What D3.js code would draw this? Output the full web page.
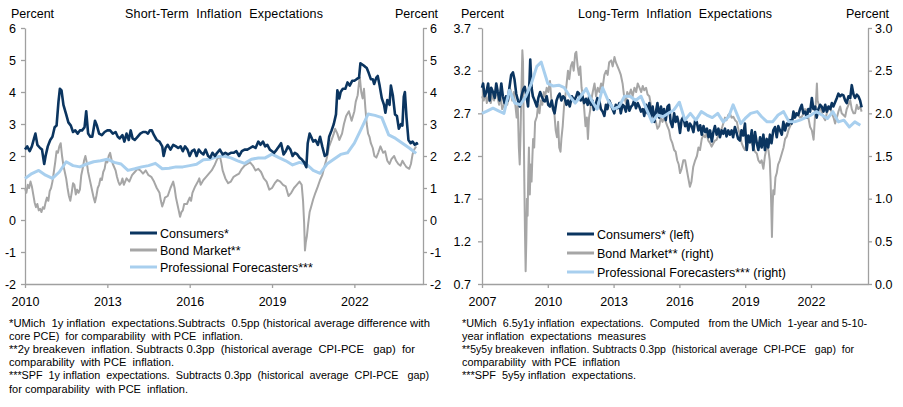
<!DOCTYPE html>
<html>
<head>
<meta charset="utf-8">
<script src="https://cdn.jsdelivr.net/npm/d3@7"></script>
<style>
body { margin: 0; background: #fff; }
svg text { font-family: "Liberation Sans", Arial, sans-serif; fill: #000; }
</style>
</head>
<body>
<svg id="chart"></svg>
<script>
const width = 903, height = 407;

// couleurs
const navy = "#0b3560", grey = "#a6a6a6", lightBlue = "#a8cfee", axisGrey = "#a0a0a0";

// ---- Short-term (gauche) : [année, valeur]
const stConsumers = [[2010.0,2.2],[2010.08,2.3],[2010.17,2.15],[2010.25,2.3],[2010.33,2.55],[2010.38,2.7],[2010.45,2.35],[2010.55,2.25],[2010.62,2.2],[2010.7,1.75],[2010.75,2.0],[2010.83,2.3],[2010.92,2.5],[2011.0,2.6],[2011.08,2.9],[2011.15,2.95],[2011.22,3.7],[2011.27,4.1],[2011.33,4.05],[2011.4,3.6],[2011.5,3.3],[2011.58,3.05],[2011.67,2.95],[2011.75,2.75],[2011.83,2.8],[2011.92,2.7],[2012.0,2.8],[2012.08,2.8],[2012.17,2.9],[2012.23,3.4],[2012.3,2.7],[2012.38,2.6],[2012.45,2.6],[2012.55,3.1],[2012.62,2.95],[2012.7,2.7],[2012.8,2.65],[2012.9,2.75],[2013.0,2.8],[2013.1,2.8],[2013.2,2.7],[2013.3,2.75],[2013.38,2.6],[2013.45,2.55],[2013.55,2.65],[2013.62,2.45],[2013.7,2.7],[2013.78,2.5],[2013.85,2.8],[2013.92,2.55],[2014.0,2.5],[2014.1,2.6],[2014.2,2.7],[2014.3,2.75],[2014.4,2.75],[2014.48,2.7],[2014.55,2.8],[2014.62,2.8],[2014.7,2.65],[2014.8,2.5],[2014.9,2.45],[2015.0,2.3],[2015.05,2.0],[2015.12,2.25],[2015.2,2.35],[2015.3,2.2],[2015.4,2.35],[2015.5,2.3],[2015.58,2.25],[2015.67,2.3],[2015.75,2.15],[2015.83,2.3],[2015.92,2.2],[2016.0,2.0],[2016.08,2.15],[2016.17,2.2],[2016.25,2.0],[2016.33,2.2],[2016.42,2.1],[2016.5,2.05],[2016.58,2.2],[2016.67,2.0],[2016.75,1.95],[2016.83,2.1],[2016.92,2.0],[2017.0,2.1],[2017.1,2.2],[2017.2,2.05],[2017.3,2.1],[2017.4,2.05],[2017.5,2.1],[2017.6,2.1],[2017.7,2.15],[2017.8,2.0],[2017.9,2.15],[2018.0,2.2],[2018.1,2.2],[2018.2,2.25],[2018.3,2.3],[2018.4,2.25],[2018.5,2.45],[2018.58,2.35],[2018.67,2.45],[2018.75,2.3],[2018.83,2.35],[2018.92,2.2],[2019.0,2.15],[2019.08,2.1],[2019.17,2.2],[2019.25,2.3],[2019.33,2.4],[2019.42,2.05],[2019.5,2.15],[2019.58,2.3],[2019.67,2.2],[2019.75,2.0],[2019.83,2.1],[2019.92,2.05],[2020.0,1.95],[2020.08,1.9],[2020.17,1.8],[2020.25,1.65],[2020.3,2.4],[2020.37,2.7],[2020.45,2.55],[2020.5,2.45],[2020.58,2.5],[2020.67,2.35],[2020.75,2.6],[2020.83,2.3],[2020.92,2.0],[2021.0,2.05],[2021.08,2.6],[2021.17,2.8],[2021.25,3.0],[2021.33,3.3],[2021.38,4.05],[2021.45,3.8],[2021.5,4.0],[2021.58,4.1],[2021.67,4.1],[2021.75,4.3],[2021.83,4.2],[2021.92,4.35],[2022.0,4.35],[2022.08,4.4],[2022.17,4.45],[2022.22,4.9],[2022.3,4.85],[2022.38,4.8],[2022.45,4.75],[2022.52,4.6],[2022.6,4.4],[2022.67,4.4],[2022.72,4.25],[2022.8,4.45],[2022.85,4.5],[2022.92,4.2],[2023.0,3.8],[2023.08,3.6],[2023.13,3.35],[2023.2,3.75],[2023.28,3.6],[2023.33,4.2],[2023.4,3.9],[2023.48,3.3],[2023.55,3.25],[2023.62,2.85],[2023.7,3.0],[2023.75,2.95],[2023.8,3.85],[2023.84,4.0],[2023.9,3.2],[2023.97,2.5],[2024.05,2.4],[2024.12,2.45],[2024.2,2.35],[2024.27,2.4],[2024.3,2.35]];

const stBond = [[2010.0,1.0],[2010.05,0.85],[2010.1,1.1],[2010.15,1.0],[2010.2,1.2],[2010.25,1.05],[2010.3,0.8],[2010.35,0.55],[2010.4,0.4],[2010.45,0.5],[2010.5,0.3],[2010.55,0.35],[2010.6,0.25],[2010.65,0.4],[2010.7,0.35],[2010.75,0.55],[2010.8,0.7],[2010.85,0.6],[2010.9,0.9],[2010.95,1.0],[2011.0,1.2],[2011.05,1.5],[2011.1,1.8],[2011.15,2.15],[2011.2,2.1],[2011.25,2.3],[2011.3,2.4],[2011.35,2.0],[2011.4,1.7],[2011.45,1.5],[2011.5,1.3],[2011.55,1.0],[2011.6,0.75],[2011.65,0.6],[2011.7,0.85],[2011.75,1.15],[2011.8,1.1],[2011.85,0.8],[2011.9,0.95],[2011.95,0.85],[2012.0,0.95],[2012.05,1.4],[2012.1,1.6],[2012.15,1.85],[2012.2,2.0],[2012.25,1.8],[2012.3,1.5],[2012.35,1.3],[2012.4,1.1],[2012.45,0.9],[2012.5,0.7],[2012.55,0.55],[2012.6,0.75],[2012.65,1.0],[2012.7,1.1],[2012.75,1.3],[2012.8,1.25],[2012.85,1.5],[2012.9,1.6],[2012.95,1.85],[2013.0,1.8],[2013.05,2.0],[2013.1,2.1],[2013.15,1.9],[2013.2,1.75],[2013.3,1.55],[2013.35,1.35],[2013.4,1.2],[2013.45,1.1],[2013.5,1.15],[2013.55,1.3],[2013.6,1.1],[2013.7,1.3],[2013.8,1.2],[2013.9,1.4],[2014.0,1.5],[2014.1,1.6],[2014.2,1.55],[2014.3,1.45],[2014.4,1.55],[2014.5,1.4],[2014.6,1.35],[2014.7,1.2],[2014.8,1.0],[2014.9,0.85],[2014.95,0.6],[2015.0,0.42],[2015.05,0.55],[2015.1,0.7],[2015.2,0.75],[2015.3,1.0],[2015.4,1.2],[2015.45,1.0],[2015.5,0.7],[2015.55,0.5],[2015.6,0.3],[2015.65,0.1],[2015.7,0.25],[2015.75,0.3],[2015.8,0.5],[2015.9,0.5],[2016.0,0.7],[2016.05,0.6],[2016.1,0.85],[2016.2,1.05],[2016.3,1.2],[2016.35,1.3],[2016.4,1.1],[2016.5,1.25],[2016.6,1.35],[2016.7,1.45],[2016.8,1.55],[2016.9,1.7],[2017.0,1.9],[2017.1,2.0],[2017.15,1.8],[2017.2,1.55],[2017.3,1.3],[2017.4,1.15],[2017.5,1.2],[2017.6,1.35],[2017.7,1.4],[2017.8,1.45],[2017.9,1.6],[2018.0,1.7],[2018.1,1.75],[2018.2,1.8],[2018.3,1.7],[2018.4,1.55],[2018.5,1.6],[2018.6,1.5],[2018.7,1.3],[2018.8,1.2],[2018.9,0.95],[2019.0,1.0],[2019.1,1.15],[2019.2,1.25],[2019.3,1.2],[2019.4,1.1],[2019.5,1.05],[2019.6,0.75],[2019.7,0.85],[2019.8,1.0],[2019.9,1.1],[2020.0,1.2],[2020.08,1.1],[2020.13,0.6],[2020.17,-0.1],[2020.2,-0.95],[2020.23,-0.7],[2020.27,-0.5],[2020.32,-0.1],[2020.37,0.25],[2020.42,0.4],[2020.5,0.65],[2020.58,0.85],[2020.67,1.05],[2020.75,1.25],[2020.83,1.4],[2020.92,1.7],[2021.0,1.95],[2021.08,2.3],[2021.17,2.5],[2021.25,2.7],[2021.3,2.85],[2021.38,2.7],[2021.45,2.5],[2021.55,2.7],[2021.62,3.0],[2021.7,3.25],[2021.8,3.4],[2021.9,3.1],[2022.0,3.4],[2022.05,3.7],[2022.12,3.9],[2022.17,4.3],[2022.2,4.45],[2022.25,4.0],[2022.3,3.8],[2022.35,4.1],[2022.4,3.5],[2022.45,3.0],[2022.5,2.7],[2022.55,2.6],[2022.6,2.4],[2022.67,2.25],[2022.73,2.0],[2022.8,1.95],[2022.87,2.1],[2022.95,2.3],[2023.0,2.2],[2023.05,2.1],[2023.12,2.15],[2023.2,1.85],[2023.28,1.75],[2023.35,1.9],[2023.45,2.0],[2023.52,1.85],[2023.6,1.75],[2023.68,1.7],[2023.75,1.85],[2023.82,1.75],[2023.9,1.65],[2024.0,1.6],[2024.06,1.75],[2024.12,2.05],[2024.18,2.2],[2024.25,2.3]];

const stSpf = [[2010.0,1.3],[2010.25,1.45],[2010.5,1.55],[2010.75,1.4],[2011.0,1.3],[2011.25,1.5],[2011.5,1.82],[2011.75,1.7],[2012.0,1.66],[2012.25,1.75],[2012.5,1.82],[2012.75,1.85],[2013.0,1.9],[2013.25,1.8],[2013.5,1.75],[2013.75,1.55],[2014.0,1.6],[2014.25,1.66],[2014.5,1.7],[2014.75,1.77],[2015.0,1.6],[2015.25,1.62],[2015.5,1.66],[2015.75,1.66],[2016.0,1.7],[2016.25,1.74],[2016.5,1.88],[2016.75,1.9],[2017.0,1.98],[2017.25,2.0],[2017.5,1.94],[2017.75,1.85],[2018.0,1.77],[2018.25,1.9],[2018.5,1.94],[2018.75,1.94],[2019.0,2.06],[2019.25,1.95],[2019.5,1.85],[2019.75,1.72],[2020.0,1.8],[2020.25,1.75],[2020.5,1.55],[2020.75,1.46],[2021.0,1.75],[2021.25,1.9],[2021.5,2.05],[2021.75,2.1],[2022.0,2.4],[2022.25,2.85],[2022.5,3.31],[2022.75,3.27],[2023.0,3.2],[2023.25,2.66],[2023.5,2.55],[2023.75,2.4],[2024.0,2.25],[2024.25,2.08]];

// ---- Long-term (droite) : consommateurs axe gauche, marché / SPF axe droit
const ltConsumers = [[2007.0,3.0],[2007.05,3.05],[2007.12,2.9],[2007.2,2.95],[2007.28,3.05],[2007.35,2.85],[2007.42,3.0],[2007.5,2.95],[2007.58,2.88],[2007.65,3.05],[2007.72,2.95],[2007.8,2.85],[2007.88,3.05],[2007.95,2.9],[2008.03,2.82],[2008.1,2.9],[2008.18,2.85],[2008.25,3.0],[2008.33,3.15],[2008.41,3.18],[2008.48,3.1],[2008.56,2.93],[2008.64,2.85],[2008.72,2.78],[2008.8,2.9],[2008.88,2.98],[2008.95,3.01],[2009.03,2.9],[2009.1,2.78],[2009.17,3.1],[2009.2,3.33],[2009.26,3.0],[2009.32,2.9],[2009.4,2.85],[2009.5,2.78],[2009.57,2.88],[2009.65,2.95],[2009.72,2.9],[2009.8,2.85],[2009.87,2.84],[2009.95,2.9],[2010.02,2.8],[2010.1,2.78],[2010.18,2.85],[2010.25,2.75],[2010.31,2.7],[2010.4,2.85],[2010.47,2.9],[2010.54,2.93],[2010.62,2.85],[2010.7,2.9],[2010.77,2.88],[2010.85,2.8],[2010.92,2.85],[2011.0,2.78],[2011.1,2.9],[2011.2,2.85],[2011.3,2.9],[2011.36,2.95],[2011.43,2.93],[2011.5,2.85],[2011.58,2.9],[2011.66,2.82],[2011.74,2.87],[2011.82,2.8],[2011.89,2.9],[2011.96,2.8],[2012.03,2.85],[2012.1,2.74],[2012.18,2.8],[2012.26,2.88],[2012.35,2.85],[2012.42,2.75],[2012.5,2.72],[2012.58,2.67],[2012.65,2.8],[2012.72,2.75],[2012.8,2.85],[2012.88,2.8],[2012.95,2.75],[2013.03,2.7],[2013.1,2.8],[2013.18,2.76],[2013.26,2.82],[2013.33,2.7],[2013.41,2.8],[2013.49,2.78],[2013.56,2.72],[2013.64,2.85],[2013.72,2.73],[2013.8,2.78],[2013.87,2.8],[2013.94,2.85],[2014.02,2.76],[2014.1,2.82],[2014.17,2.78],[2014.25,2.72],[2014.33,2.75],[2014.4,2.67],[2014.48,2.8],[2014.55,2.7],[2014.63,2.82],[2014.7,2.66],[2014.78,2.78],[2014.86,2.6],[2014.93,2.72],[2015.0,2.82],[2015.08,2.65],[2015.16,2.78],[2015.23,2.68],[2015.3,2.75],[2015.38,2.62],[2015.46,2.78],[2015.53,2.8],[2015.6,2.6],[2015.68,2.54],[2015.76,2.7],[2015.83,2.6],[2015.9,2.66],[2015.97,2.58],[2016.03,2.47],[2016.1,2.62],[2016.18,2.66],[2016.26,2.55],[2016.34,2.6],[2016.41,2.5],[2016.48,2.58],[2016.56,2.55],[2016.64,2.48],[2016.72,2.62],[2016.79,2.6],[2016.87,2.5],[2016.95,2.56],[2017.02,2.45],[2017.1,2.55],[2017.18,2.48],[2017.26,2.52],[2017.33,2.42],[2017.4,2.5],[2017.48,2.37],[2017.55,2.48],[2017.62,2.55],[2017.7,2.45],[2017.78,2.52],[2017.85,2.42],[2017.93,2.5],[2018.0,2.46],[2018.08,2.52],[2018.15,2.43],[2018.23,2.5],[2018.3,2.45],[2018.38,2.5],[2018.45,2.42],[2018.53,2.54],[2018.6,2.48],[2018.68,2.4],[2018.76,2.38],[2018.83,2.5],[2018.91,2.44],[2018.99,2.58],[2019.07,2.27],[2019.14,2.44],[2019.22,2.36],[2019.3,2.5],[2019.37,2.27],[2019.45,2.48],[2019.53,2.35],[2019.6,2.27],[2019.68,2.42],[2019.75,2.3],[2019.83,2.45],[2019.9,2.27],[2019.98,2.4],[2020.05,2.3],[2020.13,2.45],[2020.2,2.35],[2020.28,2.5],[2020.36,2.54],[2020.44,2.42],[2020.51,2.55],[2020.59,2.5],[2020.67,2.45],[2020.74,2.6],[2020.82,2.5],[2020.9,2.58],[2020.97,2.56],[2021.05,2.62],[2021.12,2.58],[2021.2,2.72],[2021.27,2.65],[2021.35,2.7],[2021.42,2.68],[2021.5,2.75],[2021.58,2.8],[2021.65,2.7],[2021.73,2.72],[2021.81,2.65],[2021.88,2.75],[2021.96,2.72],[2022.04,2.88],[2022.11,2.75],[2022.19,2.78],[2022.26,2.65],[2022.34,2.75],[2022.42,2.8],[2022.49,2.78],[2022.57,2.72],[2022.65,2.8],[2022.72,2.72],[2022.8,2.78],[2022.88,2.75],[2022.95,2.82],[2023.02,2.78],[2023.1,2.83],[2023.18,2.88],[2023.25,2.93],[2023.33,2.9],[2023.41,2.92],[2023.48,2.91],[2023.56,2.85],[2023.63,2.82],[2023.71,2.9],[2023.79,2.88],[2023.86,3.03],[2023.94,2.92],[2024.01,2.88],[2024.09,2.92],[2024.16,2.9],[2024.24,2.85],[2024.31,2.77]];

const ltBond = [[2007.0,2.2],[2007.08,2.15],[2007.15,2.25],[2007.22,2.12],[2007.3,2.2],[2007.4,2.12],[2007.48,2.22],[2007.55,2.15],[2007.62,2.25],[2007.7,2.2],[2007.78,2.1],[2007.85,2.2],[2007.92,2.05],[2008.0,2.1],[2008.08,2.2],[2008.15,2.1],[2008.22,2.2],[2008.3,2.28],[2008.38,2.15],[2008.45,2.25],[2008.52,2.1],[2008.58,1.95],[2008.63,2.1],[2008.68,1.6],[2008.72,1.4],[2008.76,1.8],[2008.8,2.3],[2008.84,2.74],[2008.87,2.6],[2008.9,1.9],[2008.93,1.2],[2008.96,0.6],[2008.99,0.15],[2009.02,0.5],[2009.05,1.0],[2009.08,0.8],[2009.11,1.3],[2009.14,1.6],[2009.18,1.05],[2009.22,1.4],[2009.26,1.2],[2009.3,1.5],[2009.33,1.7],[2009.38,1.6],[2009.42,1.9],[2009.5,1.96],[2009.56,2.1],[2009.62,2.0],[2009.68,2.15],[2009.75,2.1],[2009.82,2.25],[2009.88,2.2],[2009.95,2.3],[2010.02,2.25],[2010.1,2.38],[2010.15,2.2],[2010.22,2.05],[2010.3,2.0],[2010.36,1.8],[2010.42,1.72],[2010.47,1.9],[2010.52,1.6],[2010.58,1.55],[2010.62,1.7],[2010.68,1.85],[2010.74,2.08],[2010.8,2.2],[2010.86,2.35],[2010.92,2.5],[2010.98,2.4],[2011.05,2.55],[2011.12,2.6],[2011.18,2.5],[2011.25,2.7],[2011.3,2.72],[2011.36,2.55],[2011.42,2.45],[2011.48,2.55],[2011.54,2.3],[2011.6,2.2],[2011.66,2.05],[2011.72,1.85],[2011.78,1.95],[2011.83,1.7],[2011.88,1.95],[2011.94,2.05],[2011.98,2.15],[2012.05,2.25],[2012.13,2.35],[2012.2,2.2],[2012.28,2.3],[2012.35,2.25],[2012.43,2.35],[2012.5,2.3],[2012.58,2.45],[2012.66,2.5],[2012.73,2.45],[2012.8,2.6],[2012.89,2.62],[2012.96,2.55],[2013.04,2.66],[2013.1,2.6],[2013.18,2.55],[2013.26,2.5],[2013.33,2.45],[2013.41,2.35],[2013.48,2.2],[2013.56,2.12],[2013.62,2.25],[2013.7,2.2],[2013.79,2.28],[2013.87,2.2],[2013.95,2.3],[2014.03,2.25],[2014.1,2.35],[2014.18,2.3],[2014.26,2.25],[2014.33,2.32],[2014.4,2.27],[2014.48,2.3],[2014.55,2.22],[2014.63,2.2],[2014.7,2.1],[2014.78,2.05],[2014.86,1.95],[2014.93,1.9],[2015.0,1.82],[2015.08,1.85],[2015.15,1.95],[2015.23,1.9],[2015.3,1.95],[2015.38,1.9],[2015.45,1.85],[2015.53,1.8],[2015.6,1.7],[2015.68,1.65],[2015.76,1.57],[2015.83,1.55],[2015.9,1.45],[2015.97,1.4],[2016.03,1.3],[2016.1,1.35],[2016.18,1.45],[2016.26,1.45],[2016.33,1.35],[2016.4,1.25],[2016.48,1.14],[2016.55,1.2],[2016.63,1.37],[2016.72,1.45],[2016.8,1.5],[2016.87,1.6],[2016.94,1.57],[2017.02,1.7],[2017.1,1.75],[2017.17,1.72],[2017.24,1.76],[2017.32,1.68],[2017.4,1.65],[2017.47,1.61],[2017.55,1.65],[2017.62,1.68],[2017.7,1.69],[2017.78,1.75],[2017.85,1.8],[2017.93,1.82],[2018.0,1.88],[2018.08,1.95],[2018.15,1.92],[2018.23,1.98],[2018.3,2.0],[2018.38,1.95],[2018.46,1.96],[2018.54,1.92],[2018.62,1.9],[2018.7,1.8],[2018.76,1.76],[2018.84,1.65],[2018.92,1.6],[2018.99,1.57],[2019.07,1.65],[2019.15,1.7],[2019.22,1.69],[2019.3,1.65],[2019.38,1.6],[2019.45,1.55],[2019.53,1.53],[2019.6,1.45],[2019.68,1.42],[2019.75,1.45],[2019.83,1.35],[2019.9,1.5],[2019.98,1.6],[2020.06,1.57],[2020.12,1.45],[2020.16,1.2],[2020.19,0.9],[2020.22,0.55],[2020.25,0.9],[2020.28,1.1],[2020.33,1.05],[2020.38,1.25],[2020.44,1.3],[2020.5,1.4],[2020.58,1.45],[2020.67,1.53],[2020.75,1.6],[2020.82,1.7],[2020.9,1.73],[2020.97,1.8],[2021.05,1.85],[2021.12,1.88],[2021.2,1.95],[2021.28,2.0],[2021.35,2.0],[2021.42,1.98],[2021.5,1.95],[2021.58,1.96],[2021.66,2.0],[2021.73,2.05],[2021.81,2.04],[2021.88,1.95],[2021.96,1.84],[2022.04,1.8],[2022.12,1.69],[2022.18,1.95],[2022.24,2.2],[2022.27,2.35],[2022.3,2.15],[2022.36,2.1],[2022.42,2.08],[2022.5,2.0],[2022.58,1.95],[2022.65,1.92],[2022.72,2.0],[2022.8,2.05],[2022.88,2.08],[2022.95,2.0],[2023.03,1.95],[2023.1,1.88],[2023.18,1.95],[2023.25,2.02],[2023.33,2.08],[2023.4,2.0],[2023.48,1.98],[2023.56,1.96],[2023.63,2.05],[2023.71,2.1],[2023.79,2.15],[2023.86,2.05],[2023.94,2.0],[2024.01,2.0],[2024.09,2.1],[2024.16,2.05],[2024.24,2.08],[2024.31,2.02]];

const ltSpf = [[2007.0,2.0],[2007.25,2.03],[2007.5,2.06],[2007.75,2.03],[2008.0,2.0],[2008.25,2.27],[2008.5,2.12],[2008.75,2.1],[2009.0,2.2],[2009.25,2.35],[2009.5,2.55],[2009.7,2.6],[2010.0,2.35],[2010.25,2.32],[2010.5,2.33],[2010.75,2.3],[2011.0,2.2],[2011.25,2.12],[2011.5,2.2],[2011.75,2.29],[2012.0,2.15],[2012.25,2.05],[2012.5,2.3],[2012.75,2.15],[2013.0,2.05],[2013.25,2.08],[2013.5,2.2],[2013.75,2.2],[2014.0,2.15],[2014.25,2.2],[2014.5,2.05],[2014.75,1.9],[2015.0,1.98],[2015.25,1.96],[2015.5,2.0],[2015.75,2.04],[2016.0,2.13],[2016.25,1.92],[2016.5,2.0],[2016.75,1.92],[2017.0,2.02],[2017.25,1.98],[2017.5,1.95],[2017.75,2.0],[2018.0,1.9],[2018.25,1.96],[2018.45,2.1],[2018.8,1.88],[2019.0,1.94],[2019.25,2.0],[2019.55,2.02],[2019.75,1.96],[2020.0,1.9],[2020.25,1.9],[2020.5,1.98],[2020.75,2.02],[2021.0,1.9],[2021.25,1.9],[2021.5,1.92],[2021.75,1.95],[2022.0,1.98],[2022.25,2.02],[2022.5,1.98],[2022.75,1.94],[2023.0,2.02],[2023.25,1.9],[2023.5,1.92],[2023.75,1.84],[2024.0,1.9],[2024.25,1.86]];

// graduations
const stYearTicks = [2010, 2013, 2016, 2019, 2022];
const ltYearTicks = [2007, 2010, 2013, 2016, 2019, 2022];
const stValueTicks = [-2, -1, 0, 1, 2, 3, 4, 5, 6];
const ltLeftTicks = [0.7, 1.2, 1.7, 2.2, 2.7, 3.2, 3.7];
const ltRightTicks = [0, 0.5, 1, 1.5, 2, 2.5, 3];

// légendes
const stLegend = ["Consumers*", "Bond Market**", "Professional Forecasters***"];
const ltLegend = ["Consumers* (left)", "Bond Market** (right)", "Professional Forecasters*** (right)"];

// notes
const stNotes = [
  "*UMich  1y inflation  expectations.Subtracts  0.5pp (historical average difference with",
  "core PCE)  for comparability  with PCE  inflation.",
  "**2y breakeven  inflation. Subtracts 0.3pp  (historical average  CPI-PCE   gap)  for",
  "comparability  with PCE  inflation.",
  "***SPF  1y inflation  expectations.  Subtracts 0.3pp  (historical  average  CPI-PCE   gap)",
  "for comparability  with PCE  inflation."
];
const stNoteWidths = [421, 234, 406, 165, 420, 179];
const ltNotes = [
  "*UMich  6.5y1y inflation  expectations.  Computed   from the UMich  1-year and 5-10-",
  "year inflation  expectations  measures",
  "**5y5y breakeven  inflation. Subtracts 0.3pp  (historical average  CPI-PCE   gap)  for",
  "comparability  with PCE  inflation",
  "***SPF  5y5y inflation  expectations."
];
const ltNoteWidths = [405, 184, 392, 158, 174];

const svg = d3.select("#chart")
    .attr("width", width)
    .attr("height", height);

svg.append("rect").attr("width", width).attr("height", height).attr("fill", "#fff");

// format avec un tiret simple pour les négatifs
const fmtInt = d => d3.format("d")(d).replace("\u2212", "-");
const fmtDec = d => d3.format(".1f")(d).replace("\u2212", "-");

function styleAxis(g) {
    g.select(".domain").attr("stroke", axisGrey).attr("stroke-width", 1.3);
    g.selectAll(".tick line").attr("stroke", axisGrey).attr("stroke-width", 1.3);
    g.selectAll(".tick text").attr("fill", "#000").style("font-size", "12.5px")
        .style("font-family", "'Liberation Sans', Arial, sans-serif");
}

function drawPanel(p) {
    const x = d3.scaleLinear().domain(p.xDomain).range([p.x0, p.x1]);
    const yL = d3.scaleLinear().domain(p.yLDomain).range([284, 28]);
    const yR = d3.scaleLinear().domain(p.yRDomain).range([284, 28]);

    // axes
    svg.append("g").attr("transform", "translate(0,284)")
        .call(d3.axisBottom(x).tickValues(p.yearTicks).tickFormat(d3.format("d"))
            .tickSize(4).tickSizeOuter(0).tickPadding(9))
        .call(styleAxis);
    svg.append("g").attr("transform", `translate(${p.x0},0)`)
        .call(d3.axisLeft(yL).tickValues(p.leftTicks).tickFormat(p.fmt)
            .tickSize(4).tickSizeOuter(0).tickPadding(p.padL))
        .call(styleAxis);
    svg.append("g").attr("transform", `translate(${p.x1},0)`)
        .call(d3.axisRight(yR).tickValues(p.rightTicks).tickFormat(p.fmt)
            .tickSize(4).tickSizeOuter(0).tickPadding(p.padR))
        .call(styleAxis);

    const lineL = d3.line().x(d => x(d[0])).y(d => yL(d[1]));
    const lineR = d3.line().x(d => x(d[0])).y(d => yR(d[1]));

    p.series.forEach(s => {
        svg.append("path")
            .datum(s.data)
            .attr("fill", "none")
            .attr("stroke", s.color)
            .attr("stroke-width", s.width)
            .attr("stroke-linejoin", "round")
            .attr("d", s.axis === "L" ? lineL : lineR);
    });

    // titres
    svg.append("text").attr("x", p.pctL).attr("y", 18).style("font-size", "12.5px").text("Percent");
    svg.append("text").attr("x", p.pctR).attr("y", 18).style("font-size", "12.5px").text("Percent");
    svg.append("text").attr("x", p.titleX).attr("y", 18).style("font-size", "12.5px")
        .attr("textLength", p.titleW).attr("lengthAdjust", "spacing")
        .style("white-space", "pre").text(p.title);

    // légende
    const leg = svg.append("g");
    p.legend.forEach((label, i) => {
        const yy = p.legY + i * p.legStep;
        leg.append("line")
            .attr("x1", p.legX).attr("x2", p.legX + 27)
            .attr("y1", yy).attr("y2", yy)
            .attr("stroke", p.legColors[i]).attr("stroke-width", 3);
        leg.append("text")
            .attr("x", p.legX + 30).attr("y", yy).attr("dy", "0.36em")
            .style("font-size", "12.5px")
            .text(label);
    });

    // notes
    p.notes.forEach((t, i) => {
        svg.append("text")
            .attr("x", p.noteX).attr("y", 327 + i * 13.1)
            .style("font-size", "10px")
            .style("white-space", "pre")
            .attr("textLength", p.noteWidths[i])
            .attr("lengthAdjust", "spacingAndGlyphs")
            .text(t);
    });
}

drawPanel({
    xDomain: [2010, 2024.5], x0: 25, x1: 423,
    yLDomain: [-2, 6], yRDomain: [-2, 6],
    yearTicks: stYearTicks, leftTicks: stValueTicks, rightTicks: stValueTicks,
    fmt: fmtInt, padL: 5, padR: 3,
    series: [
        {data: stBond, color: grey, width: 2, axis: "R"},
        {data: stSpf, color: lightBlue, width: 3, axis: "R"},
        {data: stConsumers, color: navy, width: 2.6, axis: "L"}
    ],
    pctL: 11, pctR: 395, titleX: 125, titleW: 198,
    title: "Short-Term  Inflation  Expectations",
    legend: stLegend, legX: 130, legY: 233, legStep: 17,
    legColors: [navy, grey, lightBlue],
    notes: stNotes, noteWidths: stNoteWidths, noteX: 9
});

drawPanel({
    xDomain: [2007, 2024.6], x0: 482, x1: 868,
    yLDomain: [0.7, 3.7], yRDomain: [0, 3],
    yearTicks: ltYearTicks, leftTicks: ltLeftTicks, rightTicks: ltRightTicks,
    fmt: fmtDec, padL: 7, padR: 3,
    series: [
        {data: ltBond, color: grey, width: 2, axis: "R"},
        {data: ltConsumers, color: navy, width: 2.6, axis: "L"},
        {data: ltSpf, color: lightBlue, width: 3, axis: "R"}
    ],
    pctL: 461, pctR: 846, titleX: 578, titleW: 194,
    title: "Long-Term  Inflation  Expectations",
    legend: ltLegend, legX: 567, legY: 234, legStep: 19,
    legColors: [navy, grey, lightBlue],
    notes: ltNotes, noteWidths: ltNoteWidths, noteX: 462
});
</script>
</body>
</html>
